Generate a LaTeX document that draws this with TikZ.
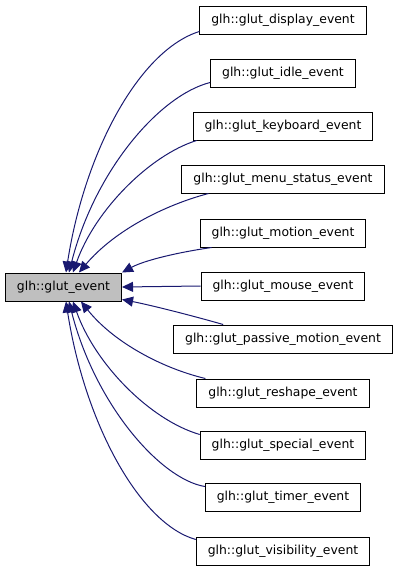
\documentclass[tikz,border=0pt]{standalone}
\usepackage{fontspec}
\setmainfont{DejaVu Sans}
\usetikzlibrary{arrows.meta}
\definecolor{edgeblue}{RGB}{25,25,112}
\definecolor{mainfill}{RGB}{191,191,191}
\begin{document}
\begin{tikzpicture}[x=1pt,y=-1pt,
  box/.style={draw=black,line width=1pt,fill=white,minimum height=28pt,inner xsep=11.5pt,inner ysep=0pt,font=\fontsize{12.4pt}{14pt}\selectfont,text height=9pt,text depth=2.5pt},
  mainbox/.style={box,fill=mainfill},
  edge/.style={draw=edgeblue,line width=1pt,-{Triangle[length=11pt,width=10pt]},fill=none}]
\useasboundingbox (0,0) rectangle (400,573);
\node[mainbox] (main) at (63.5,287) {glh::glut\_event};
\node[box] (disp) at (283,20) {glh::glut\_display\_event};
\node[box] (idle) at (283,73) {glh::glut\_idle\_event};
\node[box] (kbd) at (283,126) {glh::glut\_keyboard\_event};
\node[box] (menu) at (283,179) {glh::glut\_menu\_status\_event};
\node[box] (motion) at (283,233) {glh::glut\_motion\_event};
\node[box] (mouse) at (283,286) {glh::glut\_mouse\_event};
\node[box] (passive) at (283,339) {glh::glut\_passive\_motion\_event};
\node[box] (resh) at (283,393) {glh::glut\_reshape\_event};
\node[box] (spec) at (283,445) {glh::glut\_special\_event};
\node[box] (timer) at (283,497) {glh::glut\_timer\_event};
\node[box] (vis) at (283,551) {glh::glut\_visibility\_event};
% upper edges
\draw[edge] ([yshift=3pt]disp.south west) .. controls (140,50) and (85,150) .. ([xshift=61pt]main.north west);
\draw[edge] ([yshift=5pt]idle.south west) .. controls (160,95) and (95,170) .. ([xshift=64pt]main.north west);
\draw[edge] ([xshift=4pt]kbd.south west) .. controls (150,155) and (95,210) .. ([xshift=68pt]main.north west);
\draw[edge] ([xshift=27pt]menu.south west) .. controls (165,205) and (115,230) .. ([xshift=74pt]main.north west);
\draw[edge] ([xshift=12pt]motion.south west) .. controls (180,252) and (145,260) .. (main.north east);
\draw[edge] (mouse.west) -- (main.east);
\draw[edge] ([xshift=50pt]passive.north west) .. controls (190,315) and (150,305) .. ([yshift=2pt]main.south east);
% lower edges
\draw[edge] ([xshift=9pt]resh.north west) .. controls (165,369) and (115,344) .. ([xshift=76pt]main.south west);
\draw[edge] ([yshift=-4pt]spec.north west) .. controls (150,420) and (95,364) .. ([xshift=68pt]main.south west);
\draw[edge] ([yshift=-4pt]timer.north west) .. controls (160,479) and (95,404) .. ([xshift=64pt]main.south west);
\draw[edge] ([yshift=-3pt]vis.north west) .. controls (140,524) and (85,424) .. ([xshift=61pt]main.south west);
\end{tikzpicture}
\end{document}
